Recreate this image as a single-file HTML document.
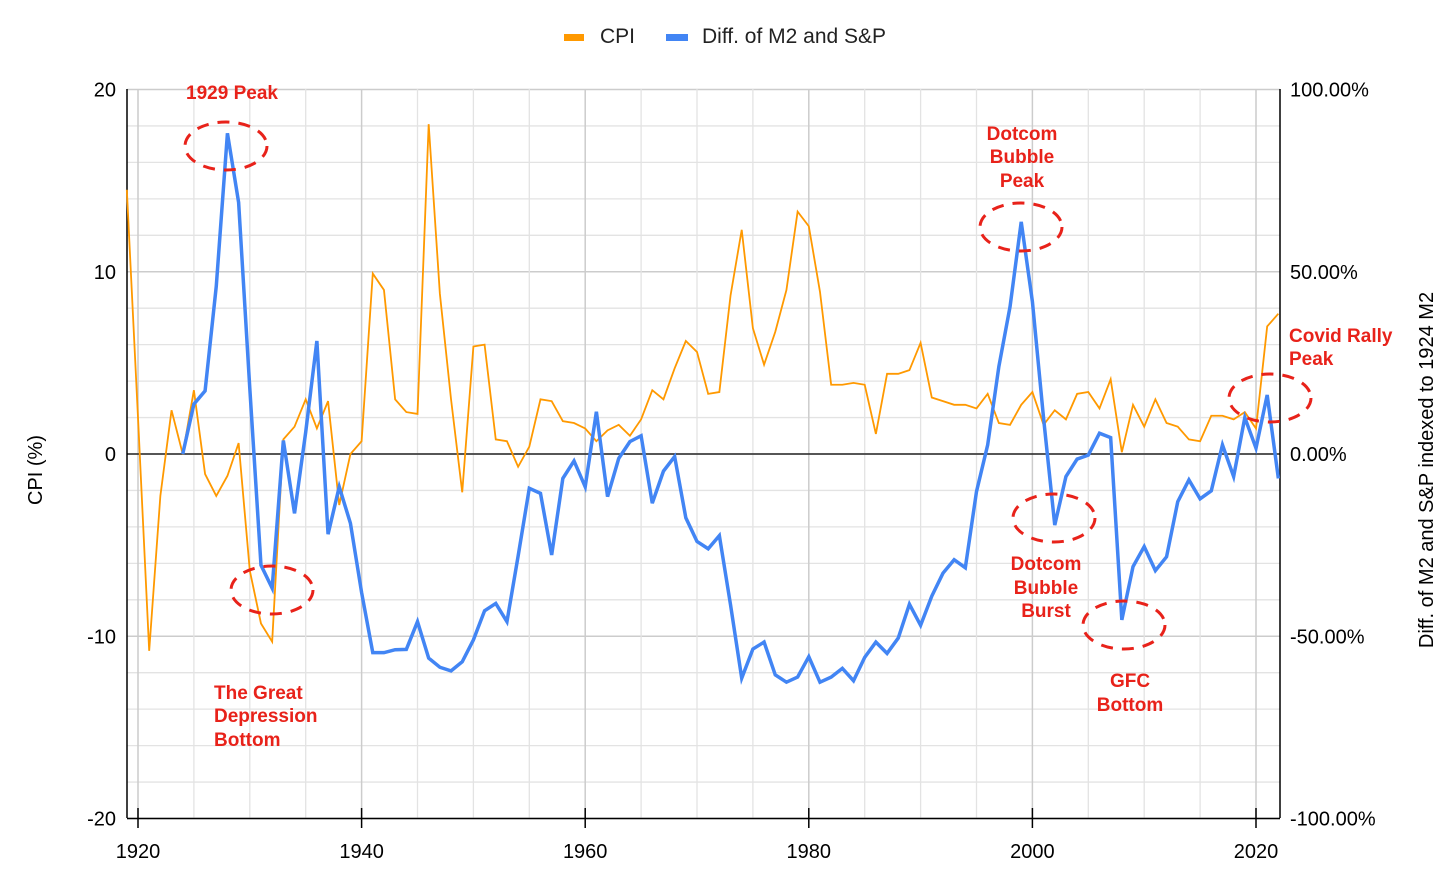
<!DOCTYPE html>
<html><head><meta charset="utf-8"><style>
body{margin:0;background:#fff;}
svg{display:block;font-family:"Liberation Sans",Arial,sans-serif;}
</style></head><body>
<svg id="chart" width="1456" height="886" xmlns="http://www.w3.org/2000/svg">
<g id="grid"></g>
<g id="axes"></g>
<g id="series"></g>
<g>
  <rect x="564" y="34" width="20" height="7" fill="#ff9900"/>
  <text x="600" y="43" font-size="21" fill="#222">CPI</text>
  <rect x="666" y="34" width="22" height="7" fill="#4285f4"/>
  <text x="702" y="43" font-size="21" fill="#222">Diff. of M2 and S&amp;P</text>
</g>
<text transform="translate(42,470) rotate(-90)" text-anchor="middle" font-size="20" fill="#000">CPI (%)</text>
<text transform="translate(1433,470) rotate(-90)" text-anchor="middle" font-size="20" fill="#000">Diff. of M2 and S&amp;P indexed to 1924 M2</text>
<g fill="#e8221a" font-weight="bold" font-size="19">
  <text x="232" y="99" text-anchor="middle">1929 Peak</text>
  <text x="214"><tspan x="214" y="699">The Great</tspan><tspan x="214" y="722">Depression</tspan><tspan x="214" y="746">Bottom</tspan></text>
  <text text-anchor="middle"><tspan x="1022" y="140">Dotcom</tspan><tspan x="1022" y="163">Bubble</tspan><tspan x="1022" y="187">Peak</tspan></text>
  <text text-anchor="middle"><tspan x="1046" y="570">Dotcom</tspan><tspan x="1046" y="594">Bubble</tspan><tspan x="1046" y="617">Burst</tspan></text>
  <text text-anchor="middle"><tspan x="1130" y="687">GFC</tspan><tspan x="1130" y="711">Bottom</tspan></text>
  <text><tspan x="1289" y="342">Covid Rally</tspan><tspan x="1289" y="365">Peak</tspan></text>
</g>
<g fill="none" stroke="#e8221a" stroke-width="3" stroke-dasharray="12,9">
  <ellipse cx="226" cy="146" rx="41" ry="24"/>
  <ellipse cx="272" cy="590" rx="41" ry="24"/>
  <ellipse cx="1021" cy="227" rx="41" ry="24"/>
  <ellipse cx="1054" cy="518" rx="41" ry="24"/>
  <ellipse cx="1124" cy="625" rx="41" ry="24"/>
  <ellipse cx="1270" cy="398" rx="41" ry="24"/>
</g>
</svg>
<script>
const cpiYears = [1919,1920,1921,1922,1923,1924,1925,1926,1927,1928,1929,1930,1931,1932,1933,1934,1935,1936,1937,1938,1939,1940,1941,1942,1943,1944,1945,1946,1947,1948,1949,1950,1951,1952,1953,1954,1955,1956,1957,1958,1959,1960,1961,1962,1963,1964,1965,1966,1967,1968,1969,1970,1971,1972,1973,1974,1975,1976,1977,1978,1979,1980,1981,1982,1983,1984,1985,1986,1987,1988,1989,1990,1991,1992,1993,1994,1995,1996,1997,1998,1999,2000,2001,2002,2003,2004,2005,2006,2007,2008,2009,2010,2011,2012,2013,2014,2015,2016,2017,2018,2019,2020,2021,2022];
const cpiValues = [14.5,2.0,-10.8,-2.3,2.4,0.0,3.5,-1.1,-2.3,-1.2,0.6,-6.4,-9.3,-10.3,0.8,1.5,3.0,1.4,2.9,-2.8,0.0,0.7,9.9,9.0,3.0,2.3,2.2,18.1,8.8,3.0,-2.1,5.9,6.0,0.8,0.7,-0.7,0.4,3.0,2.9,1.8,1.7,1.4,0.7,1.3,1.6,1.0,1.9,3.5,3.0,4.7,6.2,5.6,3.3,3.4,8.7,12.3,6.9,4.9,6.7,9.0,13.3,12.5,8.9,3.8,3.8,3.9,3.8,1.1,4.4,4.4,4.6,6.1,3.1,2.9,2.7,2.7,2.5,3.3,1.7,1.6,2.7,3.4,1.6,2.4,1.9,3.3,3.4,2.5,4.1,0.1,2.7,1.5,3.0,1.7,1.5,0.8,0.7,2.1,2.1,1.9,2.3,1.4,7.0,7.7];
const diffYears = [1924,1925,1926,1927,1928,1929,1930,1931,1932,1933,1934,1935,1936,1937,1938,1939,1940,1941,1942,1943,1944,1945,1946,1947,1948,1949,1950,1951,1952,1953,1954,1955,1956,1957,1958,1959,1960,1961,1962,1963,1964,1965,1966,1967,1968,1969,1970,1971,1972,1973,1974,1975,1976,1977,1978,1979,1980,1981,1982,1983,1984,1985,1986,1987,1988,1989,1990,1991,1992,1993,1994,1995,1996,1997,1998,1999,2000,2001,2002,2003,2004,2005,2006,2007,2008,2009,2010,2011,2012,2013,2014,2015,2016,2017,2018,2019,2020,2021,2022];
const diffValues = [0,13.7,17.3,46,88,69,18,-30.5,-36.8,3.7,-16.3,6,31,-22,-9,-19,-38,-54.5,-54.5,-53.7,-53.6,-46,-56,-58.5,-59.5,-57,-51,-43,-41,-46,-28,-9.4,-10.8,-27.7,-6.7,-1.9,-9,11.6,-11.7,-1.2,3.4,5,-13.5,-4.7,-0.7,-17.5,-24,-26,-22.4,-41.4,-61.5,-53.5,-51.6,-60.6,-62.6,-61.2,-55.6,-62.6,-61.2,-58.8,-62.2,-55.8,-51.6,-54.7,-50.5,-41.2,-47,-39,-32.7,-29,-31.2,-10.3,2.5,24,40.4,63.7,41.8,9.8,-19.5,-6.2,-1.4,-0.3,5.7,4.5,-45.5,-30.9,-25.4,-32,-28.2,-13.1,-7.1,-12.3,-10.1,2.5,-6.2,10,1.6,16.2,-6.7];
const leftTicks = [20,10,0,-10,-20];
const rightTicks = ["100.00%","50.00%","0.00%","-50.00%","-100.00%"];
const xTicks = [1920,1940,1960,1980,2000,2020];

const L=127,R=1280,T=89,B=818;
const x = yr => 138 + (yr-1920)*11.18;
const yL = v => 454 - v*18.225;
const yR = p => 454 - p*3.645;
const NS="http://www.w3.org/2000/svg";
function mk(parent,tag,attrs){const e=document.createElementNS(NS,tag);for(const k in attrs)e.setAttribute(k,attrs[k]);parent.appendChild(e);return e;}
const grid=document.getElementById('grid'), axes=document.getElementById('axes'), series=document.getElementById('series');
for(let v=-20;v<=20;v+=2){
  const l=mk(grid,'line',{x1:L,x2:R,y1:yL(v),y2:yL(v),stroke:v%10===0?'#cccccc':'#e3e3e3','stroke-width':v%10===0?1.5:1.3});
  
  
}
for(let yr=1920;yr<=2020;yr+=5){
  const l=mk(grid,'line',{x1:x(yr),x2:x(yr),y1:T,y2:B,stroke:yr%20===0?'#cccccc':'#e3e3e3','stroke-width':yr%20===0?1.5:1.3});
  
  
}
const z=mk(axes,'line',{x1:L,x2:R,y1:yL(0),y2:yL(0),stroke:'#000','stroke-width':1.3});


const la=mk(axes,'line',{x1:L,x2:L,y1:T,y2:B,stroke:'#000','stroke-width':1.5});


const ra=mk(axes,'line',{x1:R,x2:R,y1:T,y2:B,stroke:'#000','stroke-width':1.5});


const ba=mk(axes,'line',{x1:L,x2:R,y1:B+0.5,y2:B+0.5,stroke:'#000','stroke-width':1.5});


leftTicks.forEach(v=>{
  const t=mk(axes,'text',{x:116,y:yL(v)+7,'text-anchor':'end','font-size':20,fill:'#000'});t.textContent=v;
  
  
});
rightTicks.forEach((s,i)=>{
  const t=mk(axes,'text',{x:1290,y:yR(100-50*i)+7,'font-size':20,fill:'#000'});t.textContent=s;
  
  
});
xTicks.forEach(yr=>{
  const tk=mk(axes,'line',{x1:x(yr),x2:x(yr),y1:B-10,y2:B+10,stroke:'#000','stroke-width':1.5});
  
  
  const t=mk(axes,'text',{x:x(yr),y:858,'text-anchor':'middle','font-size':20,fill:'#000'});t.textContent=yr;
  
  
});
const cp=mk(series,'polyline',{points:cpiYears.map((yr,i)=>x(yr)+','+yL(cpiValues[i])).join(' '),fill:'none',stroke:'#ff9900','stroke-width':1.8,'stroke-linejoin':'miter'});


const dp=mk(series,'polyline',{points:diffYears.map((yr,i)=>x(yr)+','+yR(diffValues[i])).join(' '),fill:'none',stroke:'#4285f4','stroke-width':3.5,'stroke-linejoin':'miter'});


</script>
</body></html>
